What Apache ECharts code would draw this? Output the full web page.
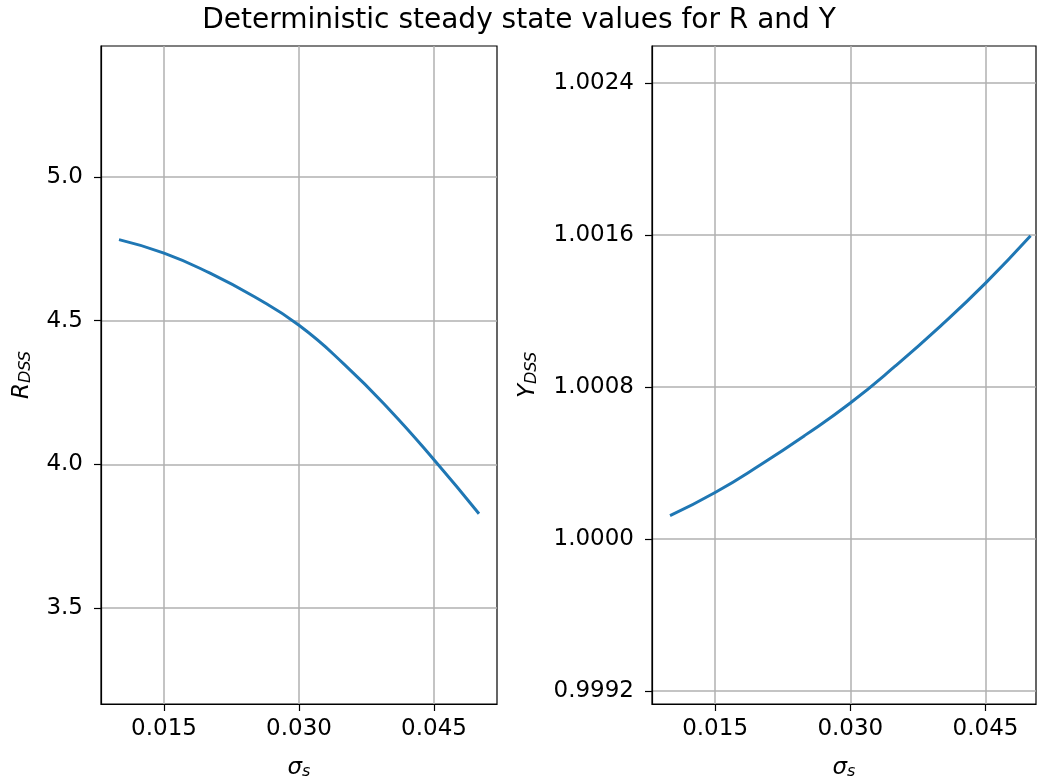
<!DOCTYPE html>
<html>
<head>
<meta charset="utf-8">
<script src="https://cdn.jsdelivr.net/npm/echarts@6/dist/echarts.min.js"></script>
<style>
  html, body { margin: 0; padding: 0; background: #fff; }
  #chart { width: 1038px; height: 780px; }
</style>
</head>
<body>
<div id="chart"></div>
<script>
// sigma_s values
var sigmaS = [0.010, 0.015, 0.020, 0.025, 0.030, 0.035, 0.040, 0.045, 0.050];
var rDss = [4.782, 4.735, 4.667, 4.584, 4.484, 4.349, 4.192, 4.016, 3.828];
var yDss = [1.000123, 1.000245, 1.000390, 1.000547, 1.000716, 1.000911, 1.001121, 1.001347, 1.001596];

var xTicks = [0.015, 0.030, 0.045];
var rTicks = [3.5, 4.0, 4.5, 5.0];
var yTicks = [0.9992, 1.0000, 1.0008, 1.0016, 1.0024];

function pairs(xs, ys) {
  return xs.map(function (x, i) { return [x, ys[i]]; });
}

var font = 'DejaVu Sans';
var gridLine = { show: true, lineStyle: { color: '#b0b0b0', width: 1.5 } };
var tickStyle = { show: true, inside: false, length: 7, lineStyle: { color: '#000', width: 1.2 } };
var axisLine = { show: true, onZero: false, lineStyle: { color: '#000', width: 1.2 } };

var nameRich = {
  i: { fontFamily: font, fontStyle: 'italic', fontSize: 23, color: '#000' },
  sub: { fontFamily: font, fontStyle: 'italic', fontSize: 16, color: '#000', verticalAlign: 'bottom', padding: [8, 0, 0, 0] }
};

function xAxis(idx) {
  return {
    type: 'value',
    gridIndex: idx,
    min: 0.008,
    max: idx === 0 ? 0.052 : 0.0506,
    axisLine: axisLine,
    axisTick: Object.assign({ customValues: xTicks }, tickStyle),
    axisLabel: {
      customValues: xTicks,
      margin: 14,
      fontFamily: font,
      fontSize: 23,
      color: '#000',
      formatter: function (v) { return v.toFixed(3); }
    },
    splitLine: gridLine,
    name: '{i|σ}{sub|s}',
    nameLocation: 'middle',
    nameGap: 52,
    nameTextStyle: { rich: nameRich }
  };
}

function lineSeries(idx, vals) {
  return {
    type: 'line',
    xAxisIndex: idx,
    yAxisIndex: idx,
    data: pairs(sigmaS, vals),
    smooth: true,
    showSymbol: false,
    lineStyle: { color: '#1f77b4', width: 3 }
  };
}

var chart = echarts.init(document.getElementById('chart'));
chart.setOption({
  animation: false,
  backgroundColor: '#fff',
  title: {
    text: 'Deterministic steady state values for R and Y',
    left: 'center',
    top: 2,
    textStyle: { fontFamily: font, fontSize: 28, fontWeight: 'normal', color: '#000' }
  },
  grid: [
    { left: 101, top: 46, width: 396, height: 658, show: true, borderColor: '#000', borderWidth: 1.2, containLabel: false, outerBoundsMode: 'none' },
    { left: 652, top: 46, width: 384, height: 658, show: true, borderColor: '#000', borderWidth: 1.2, containLabel: false, outerBoundsMode: 'none' }
  ],
  xAxis: [xAxis(0), xAxis(1)],
  yAxis: [
    {
      type: 'value',
      gridIndex: 0,
      min: 3.166,
      max: 5.456,
      axisLine: axisLine,
      axisTick: Object.assign({ customValues: rTicks }, tickStyle),
      axisLabel: {
        customValues: rTicks,
        margin: 18,
        fontFamily: font,
        fontSize: 23,
        color: '#000',
        formatter: function (v) { return v.toFixed(1); }
      },
      splitLine: gridLine,
      name: '{i|R}{sub|DSS}',
      nameLocation: 'middle',
      nameGap: 67,
      nameTextStyle: { rich: nameRich }
    },
    {
      type: 'value',
      gridIndex: 1,
      min: 0.999132,
      max: 1.002595,
      axisLine: axisLine,
      axisTick: Object.assign({ customValues: yTicks }, tickStyle),
      axisLabel: {
        customValues: yTicks,
        margin: 18,
        fontFamily: font,
        fontSize: 23,
        color: '#000',
        formatter: function (v) { return v.toFixed(4); }
      },
      splitLine: gridLine,
      name: '{i|Y}{sub|DSS}',
      nameLocation: 'middle',
      nameGap: 112,
      nameTextStyle: { rich: nameRich }
    }
  ],
  series: [lineSeries(0, rDss), lineSeries(1, yDss)]
});
</script>
</body>
</html>
